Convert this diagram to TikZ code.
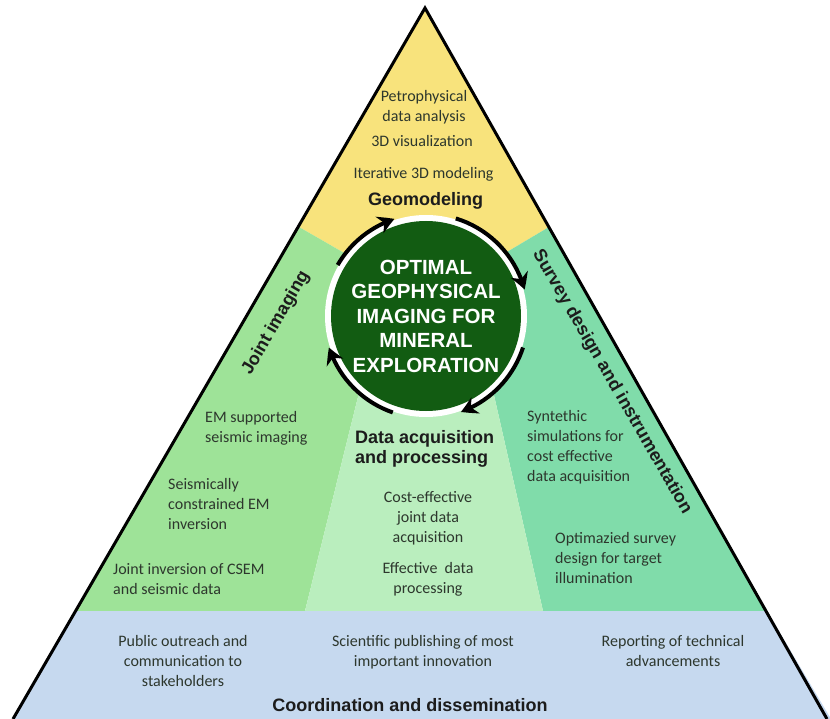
\documentclass[tikz,border=0pt]{standalone}
\usepackage{fontspec}
\setmainfont{Carlito}
\newfontfamily\arialfont{Liberation Sans}
\usetikzlibrary{arrows.meta,bending}

\definecolor{geoyellow}{RGB}{248,227,124}
\definecolor{jointgreen}{RGB}{158,227,152}
\definecolor{acqgreen}{RGB}{186,238,190}
\definecolor{surveyteal}{RGB}{128,220,170}
\definecolor{coordblue}{RGB}{198,217,239}
\definecolor{discgreen}{RGB}{18,92,18}
\definecolor{bodytext}{RGB}{45,55,45}
\definecolor{headtext}{RGB}{28,28,28}

\begin{document}
\begin{tikzpicture}[x=1pt,y=-1pt,
  body/.style={font=\fontsize{16}{20}\selectfont, text=bodytext, inner sep=0pt},
  leftbody/.style={body, align=left, anchor=base west},
  midbody/.style={body, align=center, anchor=base},
  heading/.style={font=\arialfont\bfseries\fontsize{18}{20}\selectfont, text=headtext, inner sep=0pt},
  edge/.style={line width=3pt, line join=miter},
  cyclearrow/.style={line width=4pt, -{Stealth[length=16pt,width=18pt,inset=5pt,bend]}},
]
\useasboundingbox (0,0) rectangle (830,719);

% corner points of the pyramid and its sections
\coordinate (apex) at (425,8);
\coordinate (bl) at (13,719);
\coordinate (br) at (827,719);
\coordinate (l1) at (299,227);
\coordinate (r1) at (549,227);
\coordinate (l2) at (76,611);
\coordinate (r2) at (767,611);
\coordinate (mid) at (426,300);
\coordinate (ml) at (378,316);
\coordinate (mr) at (476,316);
\coordinate (mlb) at (305,611);
\coordinate (mrb) at (543,611);

% section fills
\fill[geoyellow] (apex) -- (l1) -- (mid) -- (r1) -- cycle;
\fill[jointgreen] (l1) -- (mid) -- (ml) -- (mlb) -- (l2) -- cycle;
\fill[surveyteal] (r1) -- (mid) -- (mr) -- (mrb) -- (r2) -- cycle;
\fill[acqgreen] (ml) -- (mr) -- (mrb) -- (mlb) -- cycle;
\fill[coordblue] (l2) -- (r2) -- (831,719) -- (bl) -- cycle;

% pyramid outline
\draw[edge] (bl) -- (apex) -- (br);

% central disc
\node[circle, fill=white, minimum size=202pt, inner sep=0pt] (ring) at (426,316) {};
\node[circle, fill=discgreen, minimum size=190pt, inner sep=0pt, text=white, align=center,
      font=\arialfont\bfseries\fontsize{20.5}{24.5}\selectfont] (core) at (426,316)
      {OPTIMAL\\GEOPHYSICAL\\IMAGING FOR\\MINERAL\\EXPLORATION};

% clockwise cycle arrows round the disc
\draw[cyclearrow] (core.center) ++(150:102pt) arc[start angle=150, end angle=108, radius=102pt];
\draw[cyclearrow] (core.center) ++(73:102pt) arc[start angle=73, end angle=15, radius=102pt];
\draw[cyclearrow] (core.center) ++(-18:102pt) arc[start angle=-18, end angle=-70, radius=102pt];
\draw[cyclearrow] (core.center) ++(-109:102pt) arc[start angle=-109, end angle=-162, radius=102pt];

% Geomodeling (base anchors sit on the last line of each block)
\node[midbody] (petro) at (424,122) {Petrophysical\\data analysis};
\node[midbody] (vis) at (422,147) {3D visualization};
\node[midbody] (iter) at (423.5,179) {Iterative 3D modeling};
\node[heading, anchor=base] (geo) at (425.5,206) {Geomodeling};

% Joint imaging
\node[heading, rotate=60] (joint) at (276,323) {Joint imaging};
\node[leftbody] (emsup) at (205,442) {EM supported\\seismic imaging};
\node[leftbody] (seis) at (168,529) {Seismically\\constrained EM\\inversion};
\node[leftbody] (csem) at (113,594) {Joint inversion of CSEM\\and seismic data};

% Data acquisition and processing
\node[heading, align=left, anchor=base west] (acq) at (355,463.5) {Data acquisition\\and processing};
\node[midbody] (cost) at (428,542) {Cost-effective\\joint data\\acquisition};
\node[midbody] (eff) at (428,593) {Effective~ data\\processing};

% Survey design and instrumentation
\node[heading, rotate=-60] (survey) at (612,382) {Survey design and instrumentation};
\node[leftbody] (synth) at (527,481) {Syntethic\\simulations for\\cost effective\\data acquisition};
\node[leftbody] (optim) at (555,583) {Optimazied survey\\design for target\\illumination};

% Coordination and dissemination
\node[midbody] (outreach) at (183,686) {Public outreach and\\communication to\\stakeholders};
\node[midbody] (publish) at (423,666) {Scientific publishing of most\\important innovation};
\node[midbody] (report) at (673,666) {Reporting of technical\\advancements};
\node[heading, anchor=base] (coord) at (410,711) {Coordination and dissemination};
\end{tikzpicture}
\end{document}
